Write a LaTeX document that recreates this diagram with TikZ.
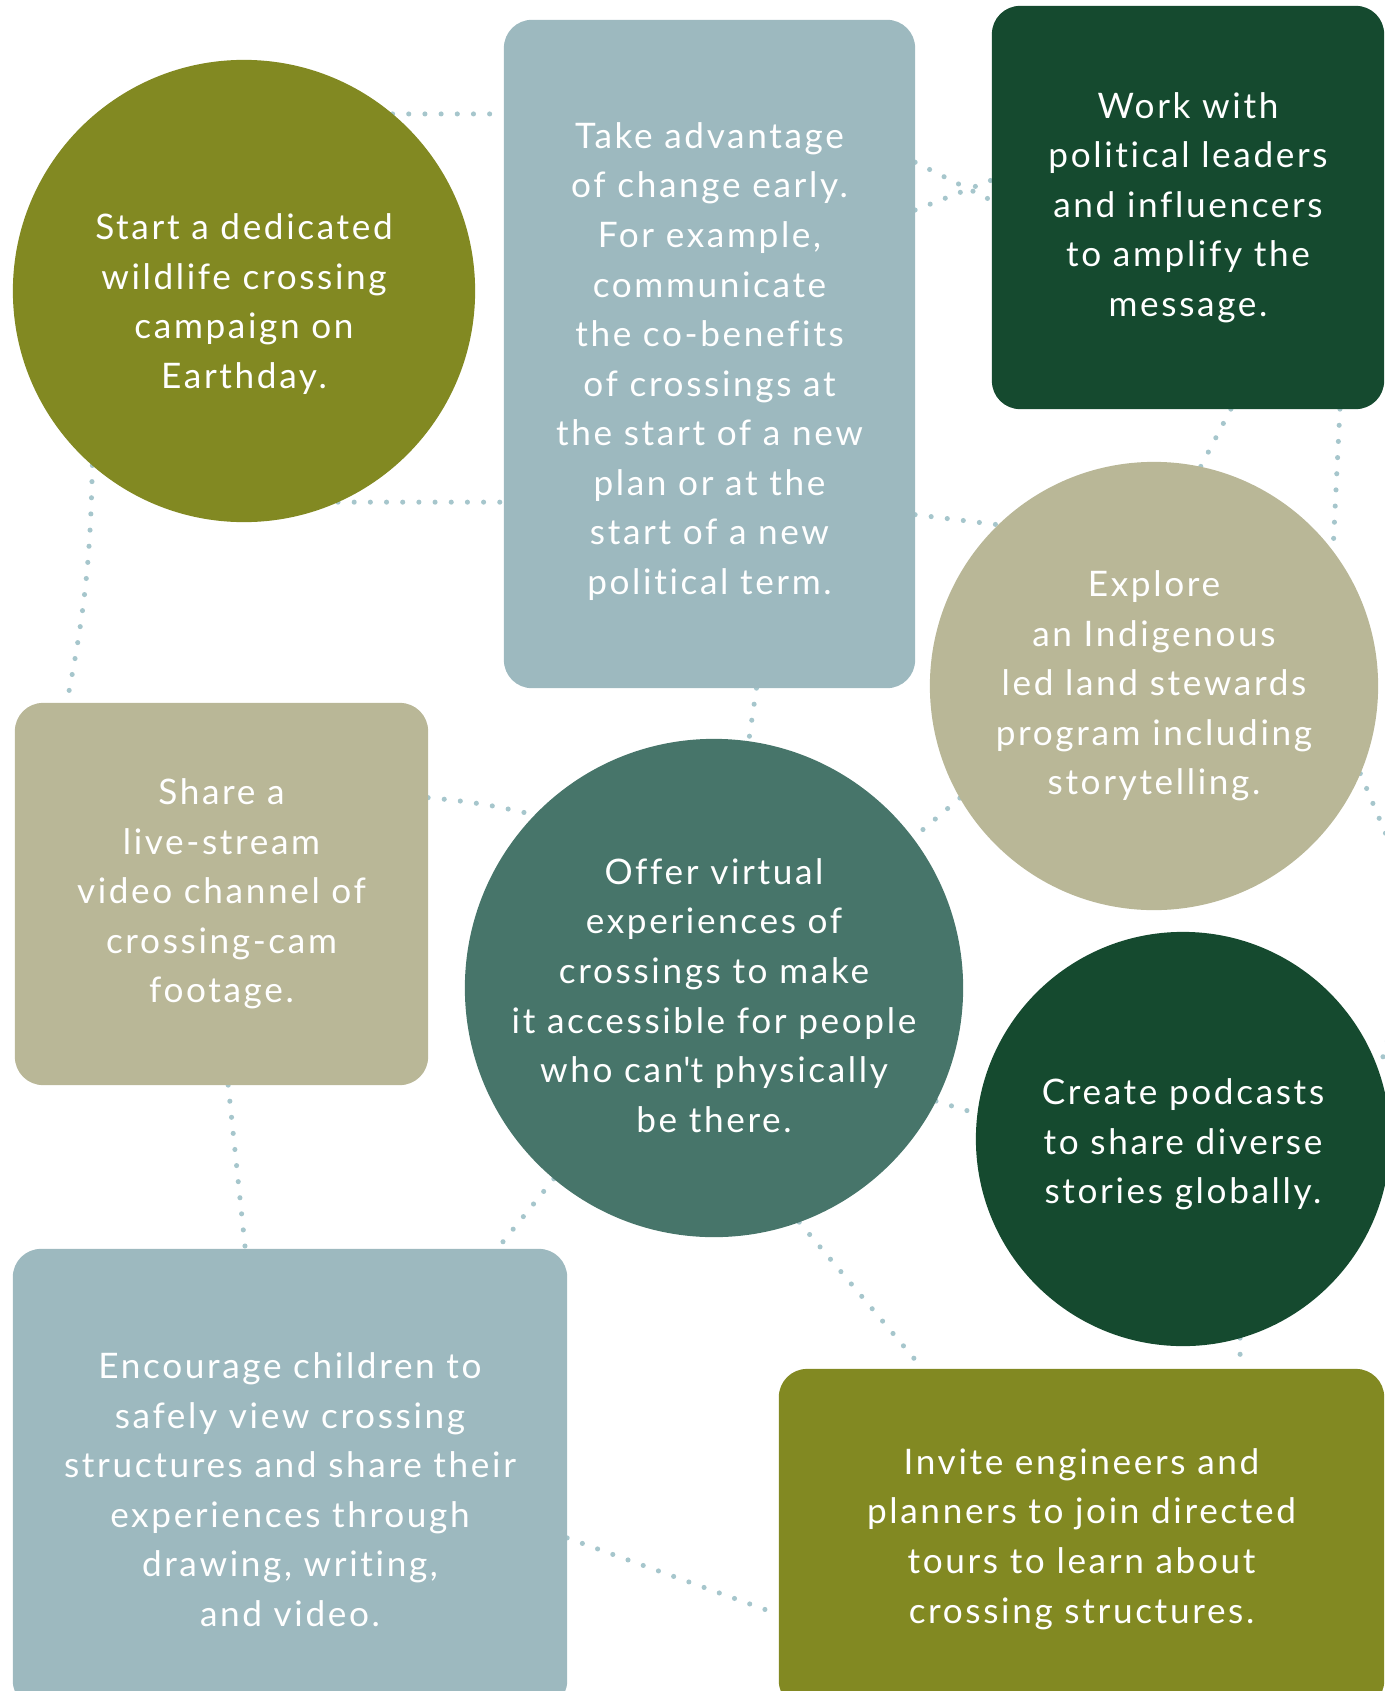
\documentclass[tikz,border=0pt]{standalone}
\usepackage{fontspec}
\setmainfont{Lato}[LetterSpace=7.5, Ligatures={NoCommon}]
\usetikzlibrary{backgrounds}
\definecolor{mossgreen}{RGB}{130,137,34}
\definecolor{mistblue}{RGB}{157,185,191}
\definecolor{forestgreen}{RGB}{21,74,47}
\definecolor{sandtan}{RGB}{185,183,151}
\definecolor{pinegreen}{RGB}{71,117,106}
\definecolor{dotblue}{RGB}{166,198,204}
\newcommand{\ideafont}{\fontsize{10}{14.1}\selectfont}
% taller first line, pushes a text block down in its shape
\newcommand{\topgap}[1]{\rule{0pt}{#1}}
\begin{document}
\begin{tikzpicture}[x=0.01cm, y=-0.01cm,
  idea/.style={text=white, align=center, font=\ideafont, inner sep=0pt, outer sep=0pt},
  disc/.style={idea, circle, minimum size=#1},
  card/.style={idea, rounded corners=8pt},
  dots/.style={draw=dotblue, line width=1.45pt, line cap=round, dash pattern=on 0pt off 4.6pt}]
\useasboundingbox (0,0) rectangle (1385,1691);
% circles
\node[disc=4.62cm, fill=mossgreen] (earthday) at (244,291) {\topgap{14.7pt}Start a dedicated\\ wildlife crossing\\ campaign on\\ Earthday.};
\node[disc=4.48cm, fill=sandtan] (indigenous) at (1154,686) {Explore\\ an Indigenous\\ led land stewards\\ program including\\ storytelling.};
\node[disc=4.98cm, fill=pinegreen] (virtual) at (714,988) {\topgap{11.6pt}Offer virtual\\ experiences of\\ crossings to make\\ it accessible for people\\ who can\textquotesingle t physically\\ be there.};
\node[disc=4.14cm, fill=forestgreen] (podcasts) at (1183,1139) {\topgap{10.4pt}Create podcasts\\ to share diverse\\ stories globally.};
% boxes
\node[card, fill=mistblue, minimum width=4.11cm, minimum height=6.68cm] (change) at (709.5,354) {\topgap{11.6pt}Take advantage\\ of change early.\\ For example,\\ communicate\\ the co-benefits\\ of crossings at\\ the start of a new\\ plan or at the\\ start of a new\\ political term.};
\node[card, fill=forestgreen, minimum width=3.92cm, minimum height=4.03cm] (leaders) at (1188,207.5) {Work with\\ political leaders\\ and influencers\\ to amplify the\\ message.};
\node[card, fill=sandtan, minimum width=4.13cm, minimum height=3.82cm] (livestream) at (221.5,894) {Share a\\ live-stream\\ video channel of\\ crossing-cam\\ footage.};
\node[card, fill=mistblue, minimum width=5.54cm, minimum height=4.60cm] (children) at (290,1479) {\topgap{13.4pt}Encourage children to\\ safely view crossing\\ structures and share their\\ experiences through\\ drawing, writing,\\ and video.};
\node[card, fill=mossgreen, minimum width=6.05cm, minimum height=3.40cm] (engineers) at (1081.5,1539) {Invite engineers and\\ planners to join directed\\ tours to learn about\\ crossing structures.};
\coordinate (edgeA) at (1401,870);
\coordinate (edgeB) at (1396,1010);
% dotted links
\begin{scope}[on background layer]
\draw[dots] (earthday.50) -- (earthday.50 -| change.west);
\draw[dots] (earthday.-66) -- (earthday.-66 -| change.west);
\draw[dots] (earthday.-131) to[bend left=5] (livestream.129);
\draw[dots] (change.43) -- (leaders.178);
\draw[dots] (change.35) -- (leaders.172);
\draw[dots] (change.-82) -- (virtual.82);
\draw[dots] (change.-38) -- (indigenous.134);
\draw[dots] (leaders.-78) -- (indigenous.78);
\draw[dots] (leaders.-53) -- (indigenous.37);
\draw[dots] (indigenous.-23) -- (edgeA);
\draw[dots] (edgeB) -- (podcasts.19);
\draw[dots] (indigenous.210) -- (virtual.37);
\draw[dots] (livestream.25) to[bend left=4] (virtual.136);
\draw[dots] (livestream.-88) -- (children.101);
\draw[dots] (virtual.-130) -- (children.48);
\draw[dots] (virtual.-70) -- (engineers.133);
\draw[dots] (virtual.-27) -- (podcasts.173);
\draw[dots] (podcasts.-74) -- (podcasts.-74 |- engineers.north);
\draw[dots] (children.-12) -- (engineers.-166);
\end{scope}
\end{tikzpicture}
\end{document}
